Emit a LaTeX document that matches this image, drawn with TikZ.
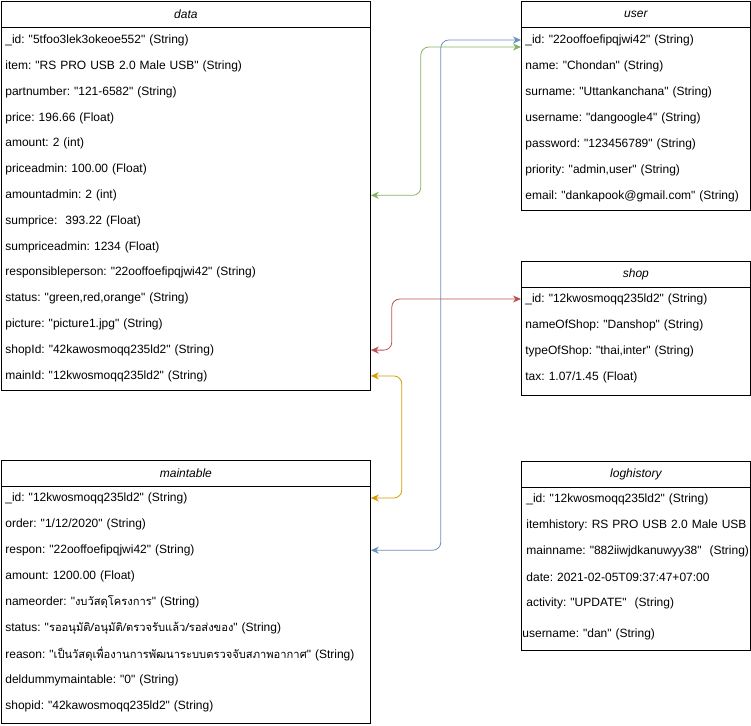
\documentclass[tikz,border=0pt]{standalone}
\usepackage{fontspec}
\newfontfamily\drawiofont{Liberation Sans}
\newfontfamily\thaifont[Script=Thai,Scale=0.93]{Loma}
\usetikzlibrary{arrows.meta}
\frenchspacing

\definecolor{linkgreen}{HTML}{82B366}
\definecolor{linkblue}{HTML}{6C8EBF}
\definecolor{linkred}{HTML}{B85450}
\definecolor{linkorange}{HTML}{D79B00}

\begin{document}
\begin{tikzpicture}[x=1pt, y=-1pt, line width=0.8pt,
  font=\drawiofont\fontsize{12}{14}\selectfont,
  title/.style={draw, anchor=north west, minimum height=26pt, inner sep=0pt,
    font=\drawiofont\itshape\fontsize{12}{14}\selectfont},
  row/.style={anchor=west, inner xsep=4pt, inner ysep=1pt, text width=#1, align=left},
  link/.style={<->, >={Stealth[length=8pt,width=7pt,inset=2.5pt]}, rounded corners=8pt}]

\useasboundingbox (0,0) rectangle (751,725);

% data
\node[title, minimum width=369pt] (data) at (1,1) {data};
\draw (data.south west) rectangle (370,390);
\foreach \t [count=\i] in {\_id: "5tfoo3lek3okeoe552" (String),
    item: "RS PRO USB 2.0 Male USB" (String), partnumber: "121-6582" (String),
    price: 196.66 (Float), amount: 2 (int), priceadmin: 100.00 (Float),
    amountadmin: 2 (int), sumprice:\ \ 393.22 (Float), sumpriceadmin: 1234 (Float),
    responsibleperson: "22ooffoefipqjwi42" (String), {status: "green,red,orange" (String)},
    picture: "picture1.jpg" (String), shopId: "42kawosmoqq235ld2" (String),
    mainId: "12kwosmoqq235ld2" (String)}
  \node[row=361pt] (data-\i) at (1,{40.5+25.8*(\i-1)}) {\mbox{\t}};

% user
\node[title, minimum width=229pt] (user) at (521,1) {user};
\draw (user.south west) rectangle (750,210);
\foreach \t [count=\i] in {\_id: "22ooffoefipqjwi42" (String), name: "Chondan" (String),
    surname: "Uttankanchana" (String), username: "dangoogle4" (String),
    password: "123456789" (String), {priority: "admin,user" (String)},
    email: "dankapook@gmail.com" (String)}
  \node[row=221pt] (user-\i) at (521,{40+26*(\i-1)}) {\mbox{\t}};

% shop
\node[title, minimum width=229pt] (shop) at (521,261) {shop};
\draw (shop.south west) rectangle (750,395);
\foreach \t [count=\i] in {\_id: "12kwosmoqq235ld2" (String), nameOfShop: "Danshop" (String),
    {typeOfShop: "thai,inter" (String)}, tax: 1.07/1.45 (Float)}
  \node[row=221pt] (shop-\i) at (521,{299+26*(\i-1)}) {\mbox{\t}};

% maintable
\node[title, minimum width=369pt] (main) at (1,460) {maintable};
\draw (main.south west) rectangle (370,723);
\foreach \t [count=\i] in {\_id: "12kwosmoqq235ld2" (String), order: "1/12/2020" (String),
    respon: "22ooffoefipqjwi42" (String), amount: 1200.00 (Float),
    nameorder: "{\thaifont งบวัสดุโครงการ}" (String),
    status: "{\thaifont รออนุมัติ/อนุมัติ/ตรวจรับแล้ว/รอส่งของ}" (String),
    reason: "{\thaifont เป็นวัสดุเพื่องานการพัฒนาระบบตรวจจับสภาพอากาศ}" (String),
    deldummymaintable: "0" (String), shopid: "42kawosmoqq235ld2" (String)}
  \node[row=361pt] (main-\i) at (1,{498+26.1*(\i-1)}) {\mbox{\t}};

% loghistory
\node[title, minimum width=229pt] (log) at (521,461) {loghistory};
\draw (log.south west) rectangle (750,650);
\foreach \y/\t [count=\i] in {499/\_id: "12kwosmoqq235ld2" (String),
    525/itemhistory: RS PRO USB 2.0 Male USB, 551/mainname: "882iiwjdkanuwyy38"\ \ (String),
    577/date: 2021-02-05T09:37:47+07:00, 603/activity: "UPDATE"\ \ (String)}
  \node[row=221pt, xshift=1pt] (log-\i) at (521,\y) {\mbox{\t}};
\node[row=225pt, inner xsep=1pt] (log-6) at (521,634) {\mbox{username: "dan" (String)}};

% links
\draw[link, linkgreen] (data-7.east) -- ++(50,0) |- ([yshift=-7pt]user-1.west);
\draw[link, linkblue] (main-3.east) -- ++(70,0) |- (user-1.west);
\draw[link, linkred] (data-13.east) -- ++(21,0) |- (shop-1.west);
\draw[link, linkorange] (data-14.east) -- ++(31,0) |- (main-1.east);

\end{tikzpicture}
\end{document}
